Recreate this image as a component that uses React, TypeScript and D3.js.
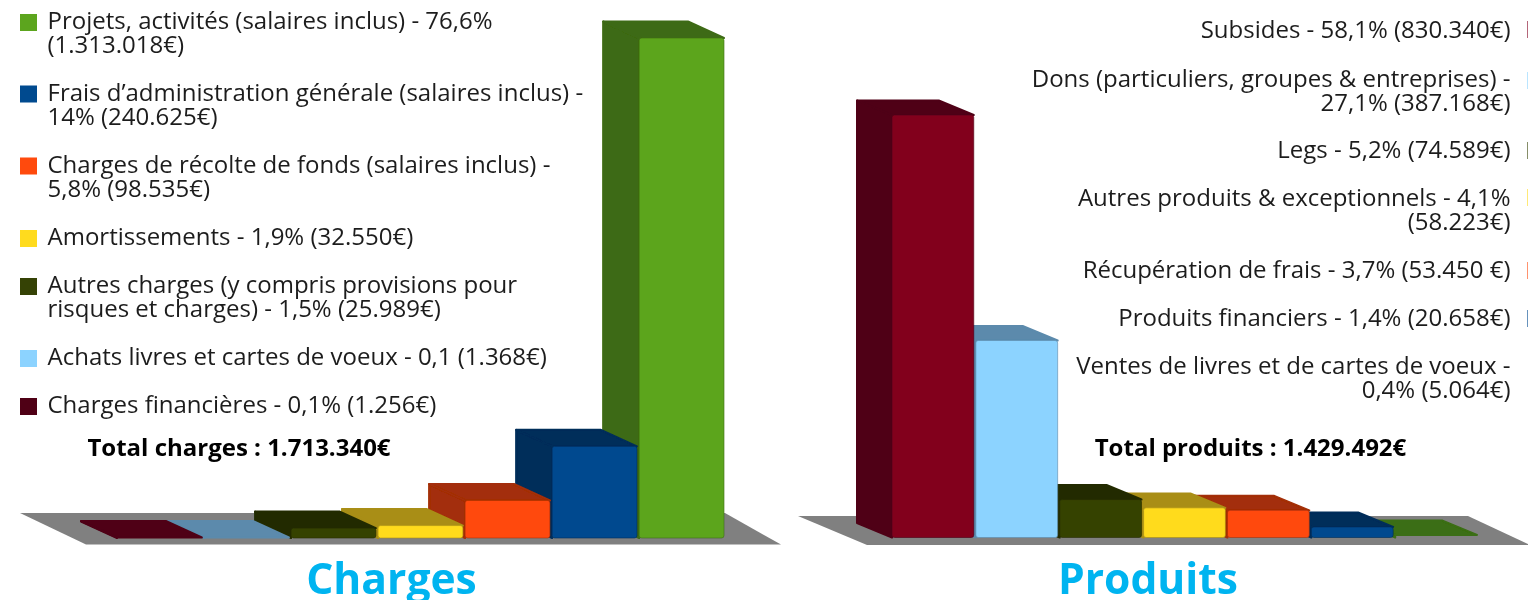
import React from "react";
import * as d3 from "d3";

const chargeLegend = [
  ["Projets, activités (salaires inclus) - 76,6%", "(1.313.018€)"],
  ["Frais d’administration générale (salaires inclus) -", "14% (240.625€)"],
  ["Charges de récolte de fonds (salaires inclus) -", "5,8% (98.535€)"],
  ["Amortissements - 1,9% (32.550€)"],
  ["Autres charges (y compris provisions pour", "risques et charges) - 1,5% (25.989€)"],
  ["Achats livres et cartes de voeux - 0,1 (1.368€)"],
  ["Charges financières - 0,1% (1.256€)"],
];
const chargeValues = [1313018, 240625, 98535, 32550, 25989, 1368, 1256];

const produitLegend = [
  ["Subsides - 58,1% (830.340€)"],
  ["Dons (particuliers, groupes & entreprises) -", "27,1% (387.168€)"],
  ["Legs - 5,2% (74.589€)"],
  ["Autres produits & exceptionnels - 4,1%", "(58.223€)"],
  ["Récupération de frais - 3,7% (53.450 €)"],
  ["Produits financiers - 1,4% (20.658€)"],
  ["Ventes de livres et de cartes de voeux -", "0,4% (5.064€)"],
];
const produitValues = [830340, 387168, 74589, 58223, 53450, 20658, 5064];

const chargeColors = ["#5CA51E", "#004A8F", "#FF4A0D", "#FFDB1E", "#354205", "#8CD3FF", "#82001F"];
const chargeTops = ["#3D6A13", "#002D5A", "#A32E07", "#A98E14", "#242C02", "#5B8AAC", "#4F0015"];
const produitColors = ["#82001F", "#8CD3FF", "#354205", "#FFDB1E", "#FF4A0D", "#004A8F", "#5CA51E"];
const produitTops = ["#4F0015", "#5B8AAC", "#242C02", "#A98E14", "#A32E07", "#002D5A", "#3A6E12"];
const chargeSwatches = ["#5CA51E", "#004A8F", "#FF4A0D", "#FFDB1E", "#354205", "#8CD3FF", "#4F0015"];

const FONT = "'Open Sans', 'Noto Sans', sans-serif";
const LH = 24.4;

type BarsProps = {
  values: number[];
  colors: string[];
  tops: string[];
  order: number[];
  x0: number;
  x1: number;
  base: number;
  maxTop: number;
  dx: number;
  dy: number;
  floor: [number, number][];
};

function Bars({ values, colors, tops, order, x0, x1, base, maxTop, dx, dy, floor }: BarsProps) {
  const x = d3.scaleBand<number>().domain(order).range([x0, x1]).paddingInner(0.025);
  const y = d3.scaleLinear().domain([0, d3.max(values)!]).range([base, maxTop]);
  const poly = d3.line();
  const drawOrder = [...order].reverse();
  return (
    <g filter="url(#soft)">
      <path d={poly(floor)! + "Z"} fill="#808080" />
      {drawOrder.map((i) => {
        const l = x(i)!;
        const r = l + x.bandwidth();
        const t = y(values[i]);
        const tall = base - t > 3;
        return (
          <g key={i}>
            <path
              d={poly([[l, t], [l + dx, t + dy], [l + dx, base + dy], [l, base]])! + "Z"}
              fill={tops[i]}
              stroke={tops[i]}
              strokeWidth={2}
              strokeLinejoin="round"
            />
            <path
              d={poly([[l, t], [l + dx, t + dy], [r + dx, t + dy], [r, t]])! + "Z"}
              fill={tops[i]}
              stroke={tops[i]}
              strokeWidth={2}
              strokeLinejoin="round"
            />
            {tall && (
              <rect
                x={l}
                y={t}
                width={x.bandwidth()}
                height={base - t}
                rx={2.5}
                fill={colors[i]}
                stroke={tops[i]}
                strokeOpacity={0.6}
                strokeWidth={1}
              />
            )}
          </g>
        );
      })}
    </g>
  );
}

function Legend({ rows, x, ys, anchor }: { rows: string[][]; x: number; ys: number[]; anchor: "start" | "end" }) {
  return (
    <g fontFamily={FONT} fontSize={24} fill="#1c1c1c" textAnchor={anchor} filter="url(#softText)">
      {rows.map((lines, i) =>
        lines.map((line, j) => (
          <text key={i + "-" + j} x={x} y={ys[i] + j * LH}>
            {line}
          </text>
        ))
      )}
    </g>
  );
}

export default function App() {
  const leftYs = [29, 100.5, 172.5, 245, 293, 365, 413];
  const rightYs = [38, 86.5, 158, 206, 278, 325.5, 374];
  const rightSwatchYs = [21, 72, 142, 189, 262, 310];
  return (
    <svg
      width={1528}
      height={600}
      viewBox="0 0 1528 600"
      style={{ position: "absolute", left: 0, top: 0, display: "block" }}
    >
      <defs>
        <filter id="soft" x="-5%" y="-5%" width="110%" height="110%">
          <feGaussianBlur stdDeviation={0.7} />
        </filter>
        <filter id="softText" x="-2%" y="-2%" width="104%" height="104%">
          <feGaussianBlur stdDeviation={0.3} />
        </filter>
      </defs>

      <Bars
        values={chargeValues}
        colors={chargeColors}
        tops={chargeTops}
        order={[6, 5, 4, 3, 2, 1, 0]}
        x0={117}
        x1={724}
        base={538}
        maxTop={38}
        dx={-36}
        dy={-16.5}
        floor={[[20, 513], [725, 513], [781, 544.5], [86, 544.5]]}
      />
      <Bars
        values={produitValues}
        colors={produitColors}
        tops={produitTops}
        order={[0, 1, 2, 3, 4, 5, 6]}
        x0={892}
        x1={1477}
        base={537.5}
        maxTop={115}
        dx={-35}
        dy={-14.5}
        floor={[[798, 516], [1468, 516], [1530, 545], [867, 545]]}
      />

      {chargeSwatches.map((c, i) => (
        <rect key={i} x={20} y={leftYs[i] - 15} width={17} height={17} fill={c} />
      ))}
      {rightSwatchYs.map((yy, i) => (
        <rect key={i} x={1527} y={yy} width={17} height={17} fill={produitColors[i]} opacity={0.6} />
      ))}

      <Legend rows={chargeLegend} x={47.5} ys={leftYs} anchor="start" />
      <Legend rows={produitLegend} x={1510.5} ys={rightYs} anchor="end" />

      <g fontFamily={FONT} fontWeight={700} filter="url(#softText)">
        <text x={239} y={456} textAnchor="middle" fontSize={24} fill="#000">
          Total charges : 1.713.340€
        </text>
        <text x={1250.5} y={456} textAnchor="middle" fontSize={24} fill="#000">
          Total produits : 1.429.492€
        </text>
        <text x={391.5} y={594} textAnchor="middle" fontSize={42.6} fill="#00B4F0">
          Charges
        </text>
        <text x={1148} y={594} textAnchor="middle" fontSize={42.6} fill="#00B4F0">
          Produits
        </text>
      </g>
    </svg>
  );
}
